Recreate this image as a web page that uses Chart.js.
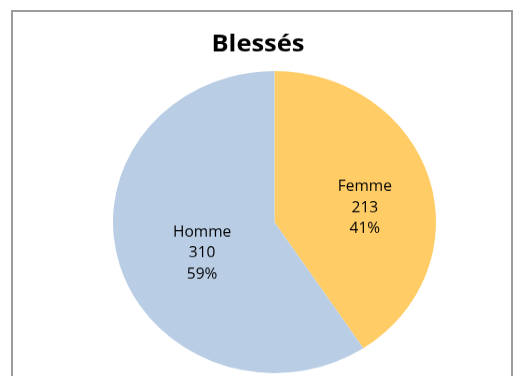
<!DOCTYPE html>
<html>
<head>
<meta charset="utf-8">
<script src="https://cdn.jsdelivr.net/npm/chart.js@4/dist/chart.umd.min.js"></script>
<style>
    html, body { margin: 0; padding: 0; background: #ffffff; }
    body { width: 524px; height: 376px; overflow: hidden; position: relative; }
    /* the chart is drawn a bit taller and squeezed back to the page height */
    #wrap { position: absolute; left: 0; top: 0; width: 524px; height: 402px;
            transform: scaleY(0.9353); transform-origin: 0 0; }
    #frame { position: absolute; left: 11px; top: 10px; width: 498px; height: 400px;
             border: 2px solid #9b9b9b; pointer-events: none; }
</style>
</head>
<body>
<div id="wrap"><canvas id="chart" width="524" height="402"></canvas></div>
<div id="frame"></div>
<script>
const title = 'Blessés';
const categories = ['Femme', 'Homme'];
const values = [213, 310];
const colors = ['#FFCC66', '#B9CDE5'];

// category / value / percentage drawn inside each slice
const sliceLabels = {
    id: 'sliceLabels',
    afterDatasetsDraw(chart) {
        const ctx = chart.ctx;
        const meta = chart.getDatasetMeta(0);
        const total = values.reduce((a, b) => a + b, 0);
        ctx.save();
        ctx.font = '15.5px "Open Sans", sans-serif';
        ctx.fillStyle = '#000000';
        ctx.textAlign = 'center';
        ctx.textBaseline = 'alphabetic';
        meta.data.forEach((arc, i) => {
            const p = arc.getProps(['x', 'y', 'startAngle', 'endAngle', 'outerRadius'], true);
            const mid = (p.startAngle + p.endAngle) / 2;
            const r = p.outerRadius * 0.526;
            const cx = p.x + Math.cos(mid) * r + 9;
            const cy = p.y + Math.sin(mid) * r + 8;
            const lines = [
                categories[i],
                String(values[i]),
                Math.round((values[i] / total) * 100) + '%',
            ];
            lines.forEach((txt, k) => {
                ctx.fillText(txt, cx, cy + (k - 1) * 22.3 + 5.5);
            });
        });
        ctx.restore();
    },
};

// title sits centred on the frame, not on the pie
const chartTitle = {
    id: 'chartTitle',
    afterDraw(chart) {
        const ctx = chart.ctx;
        ctx.save();
        ctx.font = 'bold 25.5px "Open Sans", sans-serif';
        ctx.fillStyle = '#000000';
        ctx.textAlign = 'center';
        ctx.textBaseline = 'alphabetic';
        ctx.fillText(title, 258, 55.3);
        ctx.restore();
    },
};

new Chart(document.getElementById('chart'), {
    type: 'pie',
    data: {
        labels: categories,
        datasets: [
            {
                data: values,
                backgroundColor: colors,
                borderWidth: 0,
            },
        ],
    },
    options: {
        responsive: false,
        devicePixelRatio: 1,
        animation: false,
        layout: {
            padding: { top: 75.9, left: 113, right: 88, bottom: 3.1 },
        },
        plugins: {
            legend: { display: false },
            title: { display: false },
            tooltip: { enabled: false },
        },
    },
    plugins: [sliceLabels, chartTitle],
});
</script>
</body>
</html>
